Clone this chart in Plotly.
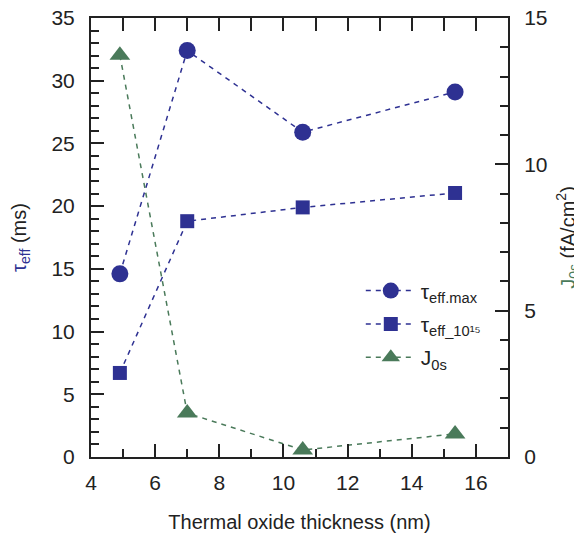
import plotly.graph_objects as go

thickness = [4.9, 7.0, 10.6, 15.35]
tau_eff_max = [14.6, 32.4, 25.9, 29.1]
tau_eff_1015 = [6.7, 18.8, 19.9, 21.05]
j0s = [13.73, 1.50, 0.24, 0.79]

NAVY = "#2E3192"
GREEN = "#4A7A5A"
FONT = "Liberation Sans, Arial, sans-serif"

fig = go.Figure()
fig.add_trace(go.Scatter(
    x=thickness, y=tau_eff_max, mode="lines+markers",
    name="τ<sub>eff.max</sub>", legendgroup="a",
    line=dict(color=NAVY, width=1.5, dash="5px,5px"),
    marker=dict(symbol="circle", size=17, color=NAVY),
))
fig.add_trace(go.Scatter(
    x=thickness, y=tau_eff_1015, mode="lines+markers",
    name="τ<sub>eff_10¹⁵</sub>", legendgroup="b",
    line=dict(color=NAVY, width=1.5, dash="5px,5px"),
    marker=dict(symbol="square", size=14, color=NAVY),
))
fig.add_trace(go.Scatter(
    x=thickness, y=j0s, mode="lines+markers", yaxis="y2",
    name="J<sub>0s</sub>", legendgroup="c",
    line=dict(color=GREEN, width=1.5, dash="5px,5px"),
    marker=dict(symbol="triangle-up", size=18, color=GREEN),
))
# invisible trace so the top axis is drawn
fig.add_trace(go.Scatter(x=[thickness[0]], y=[tau_eff_max[0]], xaxis="x3",
                         mode="markers", marker=dict(opacity=0), showlegend=False,
                         hoverinfo="skip"))

axis_common = dict(showline=True, linecolor="#222", linewidth=2, showgrid=False,
                   zeroline=False, ticks="inside", tickcolor="#222", tickwidth=2,
                   ticklen=13, automargin=False, ticklabeloverflow="allow",
                   tickfont=dict(size=21, color="#222", family=FONT))

fig.update_layout(
    width=574, height=529,
    margin=dict(l=83, r=74, t=10, b=80),
    paper_bgcolor="white", plot_bgcolor="white",
    font=dict(family=FONT, color="#222"),
    showlegend=True,
    legend=dict(x=0.647, y=0.425, xanchor="left", yanchor="top",
                bgcolor="rgba(0,0,0,0)", font=dict(size=21, family=FONT, color="#222"),
                itemwidth=50, tracegroupgap=3),
    xaxis=dict(range=[4, 17], tick0=4, dtick=2, ticklabelstandoff=6,
               minor=dict(dtick=1, ticks="inside", ticklen=8, tickcolor="#222", tickwidth=2),
               title=dict(text="Thermal oxide thickness (nm)", font=dict(size=20, family=FONT, color="#222"), standoff=22),
               **axis_common),
    xaxis3=dict(range=[4, 17], overlaying="x", side="top", matches="x", dtick=1, tick0=4,
                showticklabels=False, showline=True, linecolor="#222", linewidth=2,
                showgrid=False, zeroline=False, ticks="inside", ticklen=13,
                tickcolor="#222", tickwidth=2, automargin=False),
    yaxis=dict(range=[0, 35], tick0=0, dtick=5, ticklabelstandoff=10,
               minor=dict(dtick=1, ticks="inside", ticklen=8, tickcolor="#222", tickwidth=2),
               title=dict(text=f"<span style='color:{NAVY}'>τ<sub>eff</sub></span> (ms)",
                          font=dict(size=20, family=FONT, color="#222"), standoff=23),
               **axis_common),
    yaxis2=dict(range=[0, 15], tick0=0, dtick=5, overlaying="y", side="right", ticklabelstandoff=10,
                minor=dict(dtick=1, ticks="inside", ticklen=8, tickcolor="#222", tickwidth=2),
                title=dict(text=f"<span style='color:{GREEN}'>J<sub>0s</sub></span> (fA/cm<sup>2</sup>)",
                           font=dict(size=20, family=FONT, color="#222"), standoff=15),
                **axis_common),
)

fig.write_html("out.html")
